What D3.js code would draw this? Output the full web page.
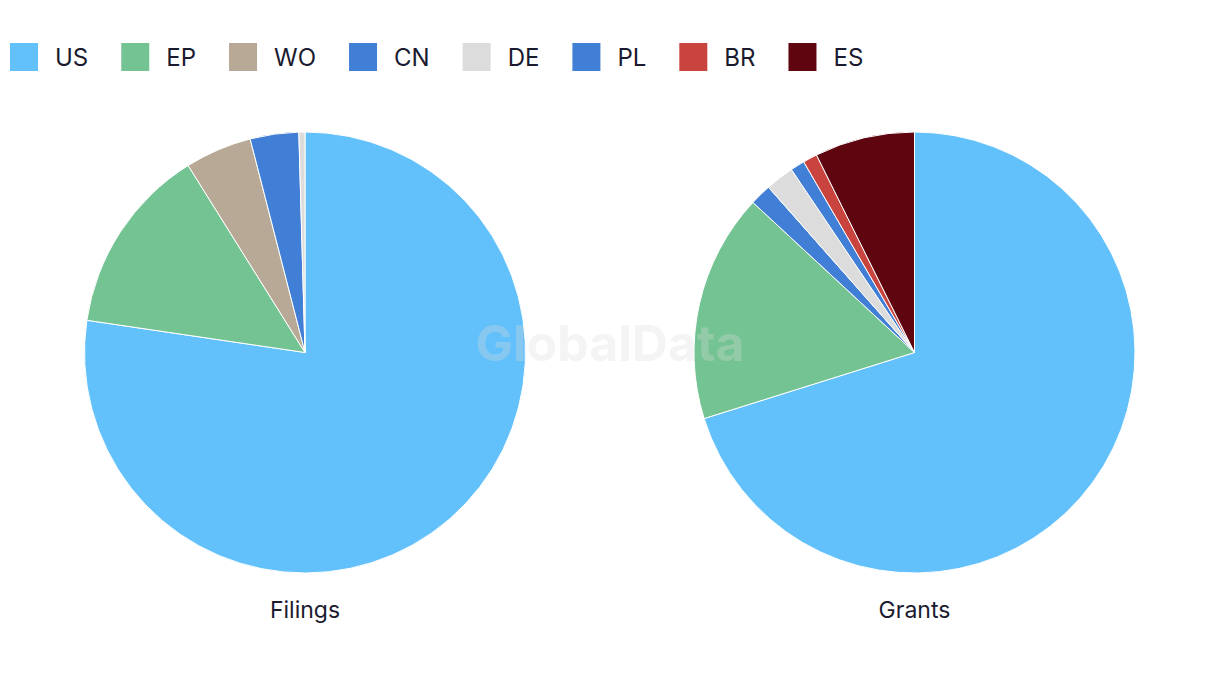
<!DOCTYPE html>
<html>
<head>
<meta charset="utf-8">
<script src="https://cdn.jsdelivr.net/npm/d3@7"></script>
<style>
  html, body { margin: 0; padding: 0; background: #fff; }
  svg { display: block; font-family: Inter, "Noto Sans", sans-serif; }
</style>
</head>
<body>
<svg id="chart" width="1220" height="686"></svg>
<script>
const categories = ["US", "EP", "WO", "CN", "DE", "PL", "BR", "ES"];
const colors = ["#62c0fa", "#74c393", "#b8a996", "#417ed6", "#dcdcdc", "#417ed6", "#c9443e", "#5e0510"];
const filingsCats = ["US", "EP", "WO", "CN", "DE"];
const filingsValues = [174, 31, 11, 8, 1];
const grantsCats = ["US", "EP", "CN", "DE", "PL", "BR", "ES"];
const grantsValues = [134, 32, 3, 4, 2, 2, 14];
const pieTitles = ["Filings", "Grants"];

const svg = d3.select("#chart");
const color = d3.scaleOrdinal().domain(categories).range(colors);
const textColor = "#1b1b2f";

// Legend
const legend = svg.append("g").attr("transform", "translate(10,43)");
let x = 0;
categories.forEach(c => {
  const g = legend.append("g").attr("transform", `translate(${x},0)`);
  g.append("rect").attr("width", 28).attr("height", 28).attr("fill", color(c));
  const t = g.append("text").attr("x", 45).attr("y", 23)
    .attr("font-size", 24).attr("fill", textColor).text(c);
  const w = t.node().getComputedTextLength();
  x += 45 + w + 33;
});

// Pies
const pie = d3.pie().sort(null).value(d => d.v);
const radius = 220.5;
const arc = d3.arc().innerRadius(0).outerRadius(radius);
const centers = [[305, 352.5], [914.5, 352.5]];
const datasets = [
  filingsCats.map((c, i) => ({ c, v: filingsValues[i] })),
  grantsCats.map((c, i) => ({ c, v: grantsValues[i] }))
];

datasets.forEach((data, k) => {
  const g = svg.append("g").attr("transform", `translate(${centers[k][0]},${centers[k][1]})`);
  g.selectAll("path").data(pie(data)).join("path")
    .attr("d", arc)
    .attr("fill", d => color(d.data.c))
    .attr("stroke", "#fff")
    .attr("stroke-width", 1);
  svg.append("text")
    .attr("x", centers[k][0]).attr("y", 618)
    .attr("text-anchor", "middle")
    .attr("font-size", 23).attr("fill", textColor)
    .text(pieTitles[k]);
});

// Watermark
svg.append("text")
  .attr("x", 610).attr("y", 361)
  .attr("text-anchor", "middle")
  .attr("font-size", 50).attr("font-weight", "bold")
  .attr("fill", "#dcdcdc").attr("fill-opacity", 0.3)
  .text("GlobalData");
</script>
</body>
</html>
